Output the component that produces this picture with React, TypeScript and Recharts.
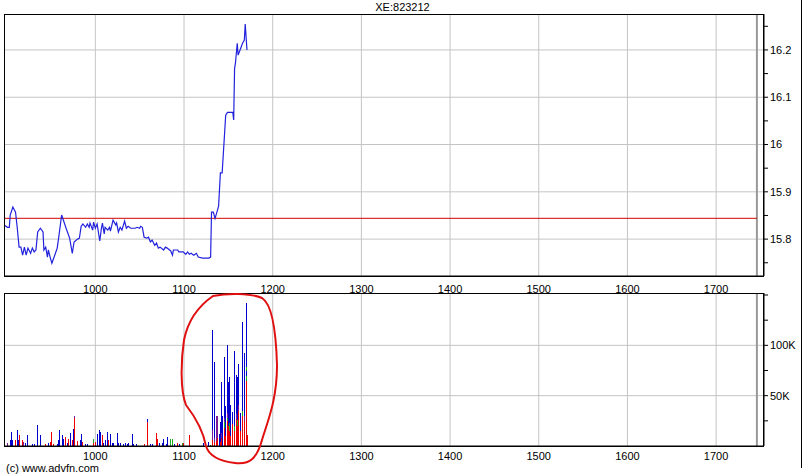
import React from 'react';
import {
  LineChart, Line, ComposedChart, Bar, XAxis, YAxis, CartesianGrid, ReferenceLine,
} from 'recharts';

const title = 'XE:823212';
const copyright = '(c) www.advfn.com';

const xTicks = [1000, 1100, 1200, 1300, 1400, 1500, 1600, 1700];
const priceTicks = [15.75, 15.8, 15.85, 15.9, 15.95, 16, 16.05, 16.1, 16.15, 16.2, 16.25];
const priceLabels = [15.8, 15.9, 16, 16.1, 16.2];
const volTicks = [25, 50, 75, 100, 125, 150];
const volLabels = [50, 100];
const refPrice = 15.844;
const endMarker = 1746;

const priceX = [897,901,903,904,907,910,912,914,916,918,920,922,924,927,929,931,933,935,938,941,942,944,946,947,949,951,955,957,959,962,964,967,971,974,976,980,982,984,986,989,991,993,994,997,998,1000,1002,1005,1007,1008,1010,1011,1014,1016,1017,1020,1023,1024,1026,1028,1030,1033,1035,1037,1040,1042,1045,1047,1050,1051,1053,1055,1058,1060,1062,1064,1067,1069,1071,1073,1077,1079,1081,1085,1087,1088,1093,1094,1097,1099,1102,1104,1106,1108,1111,1114,1116,1121,1126,1128,1130,1131,1133,1135,1138,1139,1141,1143,1147,1149,1151,1155,1156,1157,1158,1160,1161,1164,1166,1168,1169,1171];
const priceY = [15.830,15.825,15.825,15.851,15.868,15.857,15.823,15.783,15.783,15.766,15.783,15.766,15.781,15.770,15.781,15.773,15.777,15.815,15.823,15.815,15.777,15.783,15.762,15.777,15.762,15.749,15.770,15.781,15.808,15.851,15.840,15.823,15.802,15.770,15.794,15.800,15.802,15.827,15.832,15.825,15.832,15.825,15.834,15.819,15.836,15.823,15.832,15.796,15.825,15.834,15.811,15.825,15.819,15.825,15.817,15.840,15.830,15.834,15.815,15.825,15.819,15.838,15.823,15.827,15.823,15.823,15.823,15.825,15.823,15.827,15.825,15.804,15.802,15.804,15.794,15.798,15.787,15.792,15.781,15.783,15.777,15.783,15.781,15.775,15.766,15.777,15.777,15.773,15.773,15.773,15.768,15.773,15.768,15.770,15.766,15.770,15.762,15.760,15.760,15.760,15.762,15.857,15.857,15.844,15.863,15.870,15.940,15.940,16.062,16.068,16.068,16.068,16.052,16.161,16.172,16.214,16.189,16.204,16.214,16.221,16.255,16.200];

const volX = [898,901,904,906,907,910,912,913,915,918,919,921,923,924,929,932,935,938,944,947,949,951,953,957,958,960,963,964,966,969,970,972,974,975,977,980,983,985,986,989,991,998,1000,1002,1005,1006,1008,1009,1012,1014,1015,1017,1019,1020,1025,1026,1028,1032,1034,1036,1038,1042,1043,1047,1056,1059,1062,1065,1069,1070,1072,1076,1077,1080,1081,1085,1087,1089,1093,1095,1098,1099,1106,1122,1124,1128,1130,1132,1134,1137,1138,1140,1141,1142,1143,1146,1147,1149,1150,1151,1153,1155,1157,1159,1160,1162,1164,1166,1168,1170,1171,1172];
const volRed = [30,0,0,0,0,6,0,0,11,6, 0,0,0,0,0,0,0,0,2,0, 4,14,2,0,0,0,0,0,9,0, 7,0,6,0,28,5,0,0,4,0, 0,3,4,0,0,0,11,0,0,0, 6,0,0,0,0,0,0,0,0,0, 0,0,0,0,2,24,0,0,13,7, 0,0,0,0,0,0,0,0,3,0, 0,3,11,0,0,0,0,6,3,5, 8,0,4,8,0,18,10,25,20,15, 10,22,15,27,20,35,15,30,25,65, 74,11];
const volGreen = [0,0,0,0,0,0,0,0,0,0, 0,0,0,0,0,0,0,0,0,0, 0,0,0,0,0,0,0,0,0,0, 0,0,0,0,0,0,0,0,0,0, 0,4,0,0,0,0,0,0,0,0, 0,0,0,0,0,0,0,0,0,0, 0,0,0,0,0,0,0,0,0,0, 0,0,0,0,0,7,7,0,0,0, 3,0,0,0,0,0,1,0,0,0, 0,0,0,0,0,6,0,3,0,8, 0,0,5,0,6,0,0,5,0,5, 4,0];
const volPurple = [0,3,0,0,0,0,0,0,0,0, 4,0,0,0,0,0,0,0,0,0, 0,0,0,0,0,0,0,0,0,0, 0,0,0,0,2,0,0,0,0,0, 0,0,0,0,0,0,0,0,0,0, 0,0,0,0,0,0,0,0,0,0, 0,0,0,0,0,0,0,0,0,0, 0,0,0,0,0,0,0,0,0,0, 0,0,0,0,2,0,0,10,5,25, 22,0,0,5,0,4,0,5,0,0, 0,0,0,5,0,6,0,0,5,0, 0,0];
const volBlue = [4,0,6,14,6,0,16,6,0,0, 0,3,3,11,2,2,21,11,0,3, 0,0,0,2,6,16,11,7,0,3, 0,13,0,17,0,0,6,12,0,2, 2,0,0,12,16,14,0,3,6,14, 0,12,3,3,13,3,3,2,3,2, 3,12,2,2,0,3,2,2,0,0, 3,3,7,2,9,0,0,2,0,2, 0,0,0,3,0,4,0,99,75,0, 0,12,20,51,30,60,30,67,44,46, 31,12,74,39,43,40,18,88,62,5, 64,0];

const priceData = priceX.map((x, i) => ({ x, price: priceY[i] }));
const volData = volX.map((x, i) => ({
  x, red: volRed[i], green: volGreen[i], purple: volPurple[i], blue: volBlue[i],
}));

const FONT = '"Liberation Sans", Arial, sans-serif';
const tickStyle = { fill: '#000', fontSize: 11, fontFamily: FONT };
const GRID = '#c4c4c4';
const X_DOMAIN: [number, number] = [897, 1754];

const fmtPrice = (v: number) => {
  const hit = priceLabels.find((p) => Math.abs(p - v) < 1e-6);
  return hit === undefined ? '' : String(hit);
};
const fmtVol = (v: number) => (volLabels.includes(v) ? `${v}K` : '');

const CrispBar = (props: any) => {
  const { x, y, width, height, fill } = props;
  if (!height || height <= 0 || x == null) return null;
  const y0 = Math.round(y);
  const y1 = Math.round(y + height);
  if (y1 - y0 <= 0) return null;
  return (
    <rect x={Math.round(x + width / 2 - 0.5)} y={y0} width={1} height={y1 - y0}
      fill={fill} shapeRendering="crispEdges" />
  );
};

export default function App() {
  return (
    <div style={{ position: 'absolute', left: 0, top: 0, width: 805, height: 476, background: '#fff', fontFamily: FONT }}>
      <div style={{ position: 'absolute', left: 0, width: 805, top: 1, textAlign: 'center', fontSize: 11, color: '#000' }}>{title}</div>

      <div style={{ position: 'absolute', left: 0, top: 0 }}>
        <LineChart width={805} height={300} data={priceData} margin={{ top: 14, right: 5, left: 4, bottom: 0 }}>
          <CartesianGrid stroke={GRID} horizontalValues={priceLabels} verticalValues={xTicks} />
          <XAxis dataKey="x" type="number" domain={X_DOMAIN} ticks={xTicks} allowDataOverflow
            height={24} tickLine={false} tickMargin={3} tick={tickStyle} axisLine={{ stroke: '#000' }} />
          <YAxis orientation="right" type="number" domain={[15.722, 16.276]} ticks={priceTicks} allowDataOverflow
            width={36} tickSize={4} tickMargin={2} tick={tickStyle} tickFormatter={fmtPrice}
            axisLine={{ stroke: '#000' }} tickLine={{ stroke: '#000' }} />
          <ReferenceLine x={endMarker} stroke="#999" strokeWidth={2} />
          <ReferenceLine segment={[{ x: X_DOMAIN[0], y: refPrice }, { x: endMarker, y: refPrice }]} stroke="#d40000" strokeWidth={1} />
          <Line dataKey="price" type="linear" stroke="#2222dd" strokeWidth={1.2} dot={false} isAnimationActive={false} />
        </LineChart>
      </div>

      <div style={{ position: 'absolute', left: 0, top: 293 }}>
        <ComposedChart width={805} height={176} data={volData} margin={{ top: 0, right: 5, left: 4, bottom: 0 }}>
          <CartesianGrid stroke={GRID} horizontalValues={volLabels} verticalValues={xTicks} />
          <XAxis dataKey="x" type="number" domain={X_DOMAIN} ticks={xTicks} allowDataOverflow
            height={23} tickLine={false} tickMargin={0} tick={tickStyle} axisLine={{ stroke: '#000' }} />
          <YAxis orientation="right" type="number" domain={[0, 152]} ticks={volTicks} allowDataOverflow
            width={36} tickSize={4} tickMargin={2} tick={tickStyle} tickFormatter={fmtVol}
            axisLine={{ stroke: '#000' }} tickLine={{ stroke: '#000' }} />
          <ReferenceLine x={endMarker} stroke="#999" strokeWidth={2} />
          <Bar dataKey="red" stackId="v" fill="#ee0000" barSize={2} shape={CrispBar} isAnimationActive={false} />
          <Bar dataKey="green" stackId="v" fill="#22aa22" barSize={2} shape={CrispBar} isAnimationActive={false} />
          <Bar dataKey="purple" stackId="v" fill="#7a1a9a" barSize={2} shape={CrispBar} isAnimationActive={false} />
          <Bar dataKey="blue" stackId="v" fill="#0000cc" barSize={2} shape={CrispBar} isAnimationActive={false} />
        </ComposedChart>
      </div>

      {/* panel frames */}
      <div style={{ position: 'absolute', left: 4, top: 14, width: 760, height: 263, border: '1px solid #000', boxSizing: 'border-box', pointerEvents: 'none' }} />
      <div style={{ position: 'absolute', left: 4, top: 293, width: 760, height: 154, border: '1px solid #000', boxSizing: 'border-box', pointerEvents: 'none' }} />
      <div style={{ position: 'absolute', left: 801, top: 0, width: 1, height: 468, background: '#000' }} />

      {/* hand-drawn annotation */}
      <svg width={805} height={476} style={{ position: 'absolute', left: 0, top: 0, pointerEvents: 'none' }}>
        <path d="M 213 296 C 228 293, 250 293, 262 298 C 272 304, 276 330, 277 365 C 277 400, 268 420, 262 440 C 257 458, 250 465, 235 463 C 218 461, 209 456, 206 446 C 203 430, 196 418, 186 405 C 180 390, 181 360, 184 340 C 188 320, 200 305, 213 296 Z"
          fill="none" stroke="#e01010" strokeWidth={2} />
      </svg>

      <div style={{ position: 'absolute', left: 6, top: 462, fontSize: 11, color: '#000' }}>{copyright}</div>
    </div>
  );
}
